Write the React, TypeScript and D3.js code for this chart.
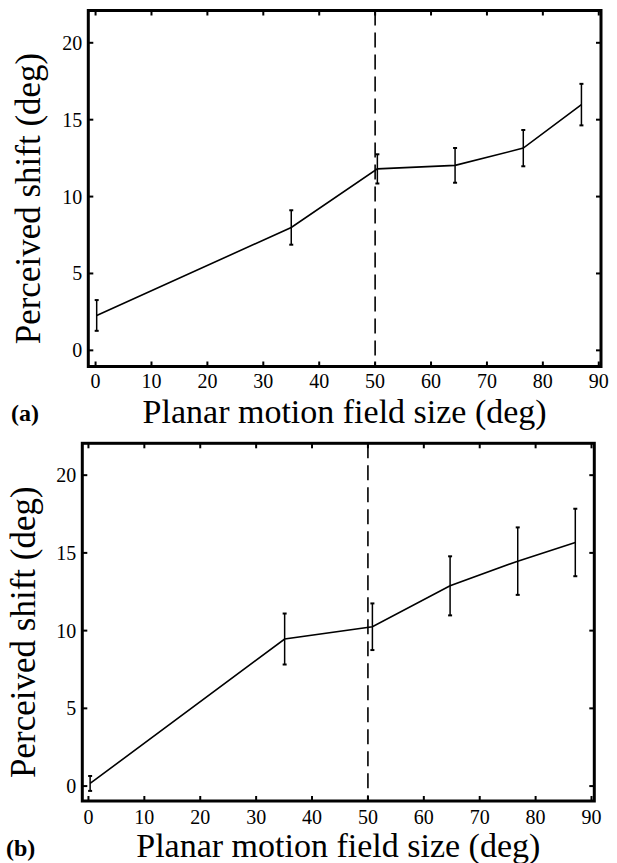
import React from "react";
import * as d3 from "d3";

// field sizes (deg) and perceived shift (deg) with error bar half-widths
const sizesA = [0.2, 35, 50.4, 64.3, 76.5, 86.9];
const shiftA = [2.27, 7.99, 11.8, 12.03, 13.15, 15.98];
const errA = [1.0, 1.12, 0.95, 1.13, 1.18, 1.35];

const sizesB = [0.3, 35.1, 50.8, 64.7, 76.8, 87.1];
const shiftB = [0.17, 9.46, 10.25, 12.88, 14.47, 15.67];
const errB = [0.48, 1.64, 1.5, 1.9, 2.17, 2.17];

const xTicks = [0, 10, 20, 30, 40, 50, 60, 70, 80, 90];
const yTicks = [0, 5, 10, 15, 20];
const cutoff = 50;

const FONT = "'Liberation Serif', 'Times New Roman', serif";

interface PanelProps {
  tag: string;
  xs: number[];
  ys: number[];
  errs: number[];
  box: { left: number; right: number; top: number; bottom: number };
  xDomain: [number, number];
  yDomain: [number, number];
  tickY: number;
  titleY: number;
  yLabelX: number;
  tagPos: [number, number];
}

const Panel = ({ tag, xs, ys, errs, box, xDomain, yDomain, tickY, titleY, yLabelX, tagPos }: PanelProps) => {
  const x = d3.scaleLinear(xDomain, [box.left, box.right]);
  const y = d3.scaleLinear(yDomain, [box.bottom, box.top]);
  const pts = xs.map((v, i) => [v, ys[i]] as [number, number]);
  const line = d3
    .line<[number, number]>()
    .x((d) => x(d[0]))
    .y((d) => y(d[1]));
  const tl = 5;

  return (
    <g>
      {/* vertical dashed cutoff */}
      <line
        x1={x(cutoff)}
        x2={x(cutoff)}
        y1={box.top}
        y2={box.bottom}
        stroke="#000"
        strokeWidth={1.6}
        strokeDasharray="15,7"
      />
      <path d={line(pts) ?? ""} fill="none" stroke="#000" strokeWidth={1.6} />
      {pts.map(([vx, vy], i) => (
        <g key={i} stroke="#000" strokeWidth={1.5}>
          <line x1={x(vx)} x2={x(vx)} y1={y(vy + errs[i])} y2={y(vy - errs[i])} />
          <line x1={x(vx) - 2} x2={x(vx) + 2} y1={y(vy + errs[i])} y2={y(vy + errs[i])} strokeWidth={2} />
          <line x1={x(vx) - 2} x2={x(vx) + 2} y1={y(vy - errs[i])} y2={y(vy - errs[i])} strokeWidth={2} />
        </g>
      ))}
      {/* ticks on all four sides, inward */}
      {xTicks.map((t) => (
        <g key={"x" + t} stroke="#000" strokeWidth={2}>
          <line x1={x(t)} x2={x(t)} y1={box.bottom} y2={box.bottom - tl} />
          <line x1={x(t)} x2={x(t)} y1={box.top} y2={box.top + tl} />
        </g>
      ))}
      {yTicks.map((t) => (
        <g key={"y" + t} stroke="#000" strokeWidth={2}>
          <line x1={box.left} x2={box.left + tl} y1={y(t)} y2={y(t)} />
          <line x1={box.right} x2={box.right - tl} y1={y(t)} y2={y(t)} />
        </g>
      ))}
      <rect
        x={box.left}
        y={box.top}
        width={box.right - box.left}
        height={box.bottom - box.top}
        fill="none"
        stroke="#000"
        strokeWidth={3}
      />
      <g fontFamily={FONT} fontSize={20} fill="#000">
        {xTicks.map((t) => (
          <text key={"xl" + t} x={x(t)} y={tickY} textAnchor="middle">
            {t}
          </text>
        ))}
        {yTicks.map((t) => (
          <text key={"yl" + t} x={box.left - 6} y={y(t)} dy="0.35em" textAnchor="end">
            {t}
          </text>
        ))}
      </g>
      <text
        x={(box.left + box.right) / 2}
        y={titleY}
        textAnchor="middle"
        fontFamily={FONT}
        fontSize={34}
      >
        Planar motion field size (deg)
      </text>
      <text
        transform={`translate(${yLabelX},${(box.top + box.bottom) / 2 + 10}) rotate(-90)`}
        textAnchor="middle"
        fontFamily={FONT}
        fontSize={35}
      >
        Perceived shift (deg)
      </text>
      <text x={tagPos[0]} y={tagPos[1]} fontFamily={FONT} fontSize={24} fontWeight="bold">
        {tag}
      </text>
    </g>
  );
};

export default function App() {
  return (
    <svg
      width={617}
      height={863}
      style={{ position: "absolute", left: 0, top: 0, background: "#fff" }}
    >
      <rect width={617} height={863} fill="#fff" />
      <Panel
        tag="(a)"
        xs={sizesA}
        ys={shiftA}
        errs={errA}
        box={{ left: 88.3, right: 601, top: 10.5, bottom: 366.5 }}
        xDomain={[-1.3, 90.4]}
        yDomain={[-1.05, 22.1]}
        tickY={388}
        titleY={423}
        yLabelX={40}
        tagPos={[11, 421]}
      />
      <Panel
        tag="(b)"
        xs={sizesB}
        ys={shiftB}
        errs={errB}
        box={{ left: 82.3, right: 594.3, top: 443.3, bottom: 801 }}
        xDomain={[-1.1, 90.5]}
        yDomain={[-0.96, 22.05]}
        tickY={824}
        titleY={857}
        yLabelX={35}
        tagPos={[6, 856]}
      />
    </svg>
  );
}
